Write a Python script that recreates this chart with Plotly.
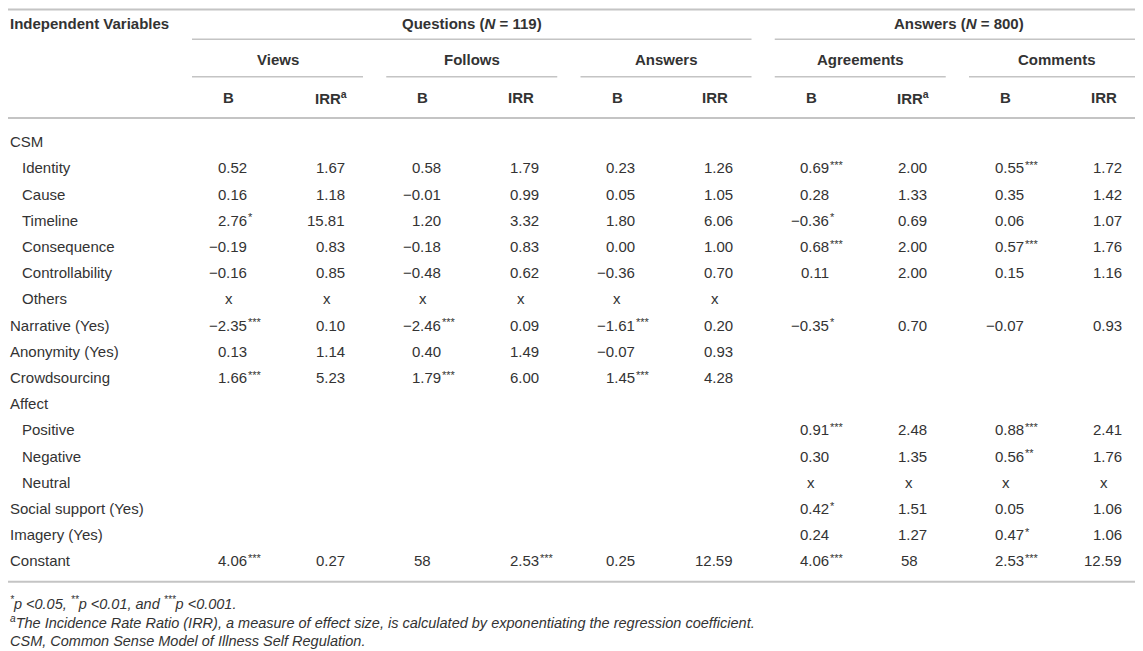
import plotly.graph_objects as go

# Table content
row_labels = ["CSM", "Identity", "Cause", "Timeline", "Consequence", "Controllability", "Others",
              "Narrative (Yes)", "Anonymity (Yes)", "Crowdsourcing", "Affect", "Positive", "Negative",
              "Neutral", "Social support (Yes)", "Imagery (Yes)", "Constant"]
row_indent = [0, 1, 1, 1, 1, 1, 1, 0, 0, 0, 0, 1, 1, 1, 0, 0, 0]

views_b = ["", "0.52", "0.16", "2.76*", "−0.19", "−0.16", "x", "−2.35***", "0.13", "1.66***",
           "", "", "", "", "", "", "4.06***"]
views_irr = ["", "1.67", "1.18", "15.81", "0.83", "0.85", "x", "0.10", "1.14", "5.23",
             "", "", "", "", "", "", "0.27"]
follows_b = ["", "0.58", "−0.01", "1.20", "−0.18", "−0.48", "x", "−2.46***", "0.40", "1.79***",
             "", "", "", "", "", "", "58"]
follows_irr = ["", "1.79", "0.99", "3.32", "0.83", "0.62", "x", "0.09", "1.49", "6.00",
               "", "", "", "", "", "", "2.53***"]
answers_b = ["", "0.23", "0.05", "1.80", "0.00", "−0.36", "x", "−1.61***", "−0.07", "1.45***",
             "", "", "", "", "", "", "0.25"]
answers_irr = ["", "1.26", "1.05", "6.06", "1.00", "0.70", "x", "0.20", "0.93", "4.28",
               "", "", "", "", "", "", "12.59"]
agree_b = ["", "0.69***", "0.28", "−0.36*", "0.68***", "0.11", "", "−0.35*", "", "",
           "", "0.91***", "0.30", "x", "0.42*", "0.24", "4.06***"]
agree_irr = ["", "2.00", "1.33", "0.69", "2.00", "2.00", "", "0.70", "", "",
             "", "2.48", "1.35", "x", "1.51", "1.27", "58"]
comm_b = ["", "0.55***", "0.35", "0.06", "0.57***", "0.15", "", "−0.07", "", "",
          "", "0.88***", "0.56**", "x", "0.05", "0.47*", "2.53***"]
comm_irr = ["", "1.72", "1.42", "1.07", "1.76", "1.16", "", "0.93", "", "",
            "", "2.41", "1.76", "x", "1.06", "1.06", "12.59"]

group_names = ["Views", "Follows", "Answers", "Agreements", "Comments"]
irr_headers = ["IRR<sup>a</sup>", "IRR", "IRR", "IRR<sup>a</sup>", "IRR"]
columns = [views_b, views_irr, follows_b, follows_irr, answers_b, answers_irr,
           agree_b, agree_irr, comm_b, comm_irr]

footnotes = [
    "<i><sup>*</sup>p &lt;0.05, <sup>**</sup>p &lt;0.01, and <sup>***</sup>p &lt;0.001.</i>",
    "<i><sup>a</sup>The Incidence Rate Ratio (IRR), a measure of effect size, is calculated by "
    "exponentiating the regression coefficient.</i>",
    "<i>CSM, Common Sense Model of Illness Self Regulation.</i>",
]

# geometry (page pixels); the page body has an 8px margin, so the axes start at 8
W, H = 1143, 651
PAD = 8
LEFT = 8  # left edge of the label column (can't go further left than the page margin)
FONT = "Liberation Sans, Arial, Helvetica, sans-serif"
TXT = "#333333"
LINE = "#c4c4c4"
FS = 15
g_x0, g_step, g_w = 192, 194.25, 171
b_off, irr_off, dec = 36.5, 134.5, 20
row_y0, row_step = 141.7, 26.2

fig = go.Figure()
ann = []
shapes = []


def txt(x, y, s, anchor="center", size=FS, bold=False, yshift=0, xshift=0):
    if bold:
        s = "<b>" + s + "</b>"
    ann.append(dict(x=x, y=y, text=s, xanchor=anchor, yanchor="middle", showarrow=False,
                    yshift=yshift, xshift=xshift,
                    font=dict(family=FONT, size=size, color=TXT)))


def hline(x0, x1, y, w):
    shapes.append(dict(type="line", x0=x0, x1=x1, y0=y, y1=y, line=dict(color=LINE, width=w)))


# horizontal rules
hline(PAD, W, PAD + 1.5, 2)
hline(g_x0, g_x0 + 2 * g_step + g_w, 39.3, 1.5)
hline(g_x0 + 3 * g_step, W, 39.3, 1.5)
for g in range(5):
    x0 = g_x0 + g * g_step
    x1 = x0 + g_w if g < 4 else W - 3
    hline(x0, x1, 76.7, 1.5)
hline(PAD, W, 118, 2)
hline(PAD, W, 581.7, 2)

# header text
txt(LEFT, 23, "Independent Variables", anchor="left", bold=True)
txt(g_x0 + (2 * g_step + g_w) / 2, 23, "Questions (<i>N</i> = 119)", bold=True)
txt((g_x0 + 3 * g_step + W) / 2, 23, "Answers (<i>N</i> = 800)", bold=True)
for g in range(5):
    x0 = g_x0 + g * g_step
    txt(x0 + g_w / 2 + (2 if g == 4 else 0), 59, group_names[g], bold=True)
    txt(x0 + b_off, 97, "B", bold=True)
    shift = 4 if "sup" in irr_headers[g] else 0
    txt(x0 + irr_off + shift, 97, irr_headers[g], bold=True)

# body
for i, label in enumerate(row_labels):
    y = row_y0 + i * row_step
    txt(LEFT + 12 * row_indent[i], y, label, anchor="left")
    for c, col in enumerate(columns):
        s = col[i]
        if not s:
            continue
        g = c // 2
        cx = g_x0 + g * g_step + (b_off if c % 2 == 0 else irr_off)
        if "." in s:
            num = s.rstrip("*")
            stars = s[len(num):]
            txt(cx + dec, y, num, anchor="right")
            if stars:
                txt(cx + dec, y, stars, anchor="left", size=11, yshift=3, xshift=-3)
        else:
            txt(cx, y, s)

for k, f in enumerate(footnotes):
    txt(LEFT, 603 + k * 19, f, anchor="left", size=14.5)

fig.update_layout(
    width=W - PAD, height=H - PAD,
    margin=dict(l=0, r=0, t=0, b=0),
    paper_bgcolor="white", plot_bgcolor="white",
    xaxis=dict(range=[PAD, W], visible=False, fixedrange=True),
    yaxis=dict(range=[H, PAD], visible=False, fixedrange=True),
    annotations=ann, shapes=shapes,
    showlegend=False,
)

fig.write_html("out.html")
